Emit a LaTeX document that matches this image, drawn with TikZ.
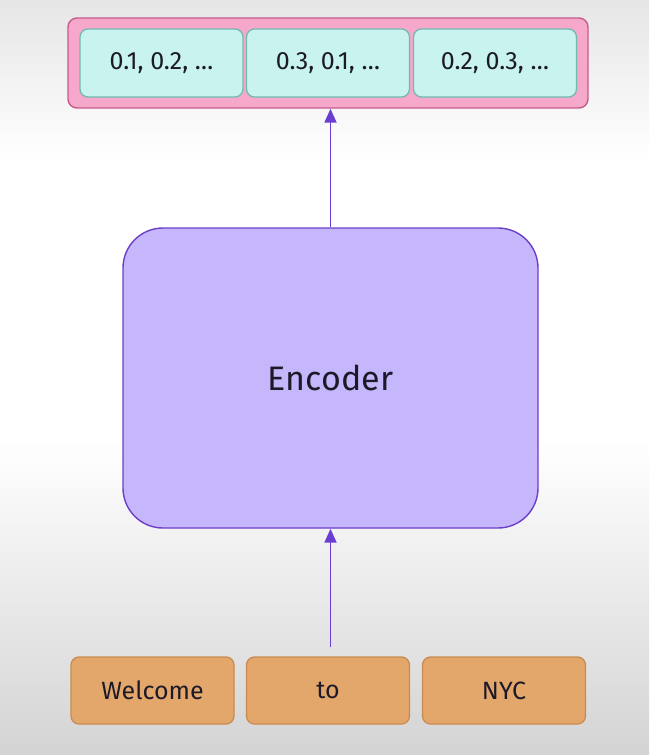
\documentclass[tikz,border=0pt]{standalone}
\usepackage{fontspec}
\setmainfont{Fira Sans}
\usepackage{xcolor}
\usepackage{tikz}
\usetikzlibrary{arrows.meta}
\usetikzlibrary{calc}

\definecolor{pinkfill}{HTML}{F5A8C9}
\definecolor{pinkline}{HTML}{C65A8C}
\definecolor{cyanfill}{HTML}{C8F3EF}
\definecolor{cyanline}{HTML}{72B9B1}
\definecolor{encfill}{HTML}{C6B6FB}
\definecolor{encline}{HTML}{6B3FC9}
\definecolor{tokfill}{HTML}{E3A76B}
\definecolor{tokline}{HTML}{C98B52}
\definecolor{arrowcol}{HTML}{6A3ED2}
\definecolor{textcol}{HTML}{1C1A28}

\begin{document}
\begin{tikzpicture}[x = 1pt, y = -1pt]
			\useasboundingbox (0, 0) rectangle (649, 755);
			\fill [white] (0, 0) rectangle (649, 755);
			\shade [top color = black!10, bottom color = white] (0, 0) rectangle (649, 160);
			\shade [top color = white, bottom color = black!17] (0, 440) rectangle (649, 755);
			
			\begin{scope}[every node/.style={rectangle, draw = pinkline, fill = pinkfill, line width = 1.4pt, rounded corners = 9pt, minimum width = 520pt, minimum height = 90pt}]
			\node (vec) at (328, 63) {};
			\end{scope}
			
			\begin{scope}[every node/.style={rectangle, draw = cyanline, fill = cyanfill, line width = 1.3pt, rounded corners = 8pt, minimum width = 163pt, minimum height = 68pt, text = textcol, font = \fontsize{25}{28}\selectfont}]
			\node (v0) at (161.5, 63) {0.1, 0.2, …};
			\node (v1) at (328, 63) {0.3, 0.1, …};
			\node (v2) at (495, 63) {0.2, 0.3, …};
			\end{scope}
			
			\begin{scope}[every node/.style={rectangle, draw = encline, fill = encfill, line width = 1.4pt, rounded corners = 40pt, minimum width = 415pt, minimum height = 300pt, text = textcol, font = \fontsize{34}{38}\selectfont}]
			\node (enc) at (330.5, 378) {Encoder};
			\end{scope}
			
			\begin{scope}[every node/.style={rectangle, draw = tokline, fill = tokfill, line width = 1.3pt, rounded corners = 8pt, minimum width = 163pt, minimum height = 67pt, text = textcol, font = \fontsize{25}{28}\selectfont}]
			\node (w0) at (152.5, 690.5) {Welcome};
			\node (w1) at (328, 690.5) {to};
			\node (w2) at (504, 690.5) {NYC};
			\end{scope}
			
			\begin{scope}[>={Triangle[width = 12pt, length = 14pt]},
			every edge/.style = {draw = arrowcol, line width = 1.8pt}]
			\path [->] (enc.north) edge (enc.north |- vec.south);
			\path [->, shorten <= 9pt] (enc.south |- w1.north) edge (enc.south);
			\end{scope}
			
			\end{tikzpicture}
\end{document}
